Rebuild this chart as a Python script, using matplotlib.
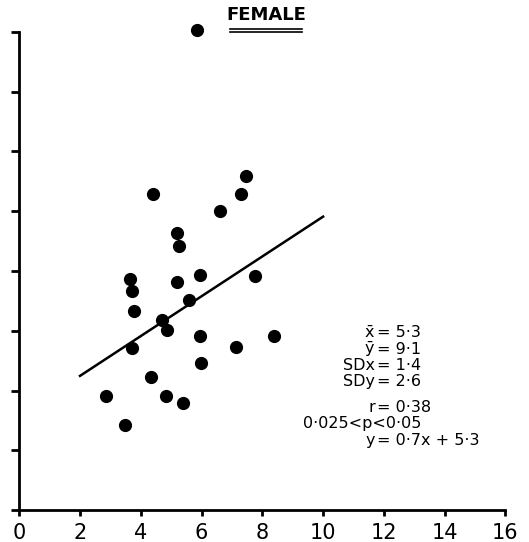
import matplotlib.pyplot as plt
from matplotlib.lines import Line2D

plt.rcParams['font.family'] = ['DejaVu Sans']
plt.rcParams['mathtext.fontset'] = 'dejavusans'

# data
x_vals = [5.85, 4.40, 7.46, 7.29, 6.60, 5.19, 5.26, 3.64, 3.71, 3.78, 5.19, 5.95, 5.58,
          4.70, 4.86, 3.71, 5.95, 7.13, 5.98, 4.33, 2.85, 4.83, 5.39, 3.48, 7.75, 8.38]
y_vals = [18.05, 12.59, 13.19, 12.59, 12.02, 11.28, 10.84, 9.74, 9.34, 8.67, 9.64, 9.87, 9.04,
          8.37, 8.03, 7.43, 7.83, 7.46, 6.92, 6.46, 5.82, 5.82, 5.58, 4.85, 9.84, 7.83]
line_x = [2, 10]
line_y = [6.49, 11.82]
x_ticks = [0, 2, 4, 6, 8, 10, 12, 14, 16]
y_ticks = [2, 4, 6, 8, 10, 12, 14, 16, 18]
stats_left = [r'$\bar{\mathrm{x}}$', r'$\bar{\mathrm{y}}$', 'SDx', 'SDy', 'r', None, 'y']
stats_right = ['5·3', '9·1', '1·4', '2·6', '0·38', None, '0·7x + 5·3']
p_text = '0·025<p<0·05'

fig = plt.figure(figsize=(5.29, 5.42), dpi=100)
ax = fig.add_axes([0.0364, 0.059, 0.919, 0.882])

ax.scatter(x_vals, y_vals, s=72, color='black', clip_on=False, zorder=3)
ax.plot(line_x, line_y, color='black', lw=1.8)

ax.set_xlim(0, 16)
ax.set_ylim(2, 18)
ax.set_xticks(x_ticks)
ax.set_yticks(y_ticks)
ax.set_yticklabels([])
ax.spines['top'].set_visible(False)
ax.spines['right'].set_visible(False)
ax.spines['left'].set_linewidth(2)
ax.spines['bottom'].set_linewidth(2)
ax.tick_params(axis='y', length=6, width=2, direction='out')
ax.tick_params(axis='x', length=4, width=2, direction='out', labelsize=15, pad=5)

# title with double underline
fig.text(0.503, 0.972, 'FEMALE', ha='center', va='center', fontsize=13, fontweight='bold')
fig.add_artist(Line2D([0.435, 0.571], [0.946, 0.946], color='black', lw=1.2))
fig.add_artist(Line2D([0.435, 0.571], [0.941, 0.941], color='black', lw=1.2))

# statistics block, aligned on "="
eq_x = 0.712
ys = [0.386, 0.356, 0.325, 0.296, 0.249, 0.218, 0.187]
for lft, rgt, yy in zip(stats_left, stats_right, ys):
    if lft is None:
        fig.text(0.573, yy, p_text, ha='left', va='center', fontsize=11.5)
        continue
    fig.text(eq_x - 0.003, yy, lft, ha='right', va='center', fontsize=11.5)
    fig.text(eq_x, yy, '= ' + rgt, ha='left', va='center', fontsize=11.5)

fig.savefig('out.png')
